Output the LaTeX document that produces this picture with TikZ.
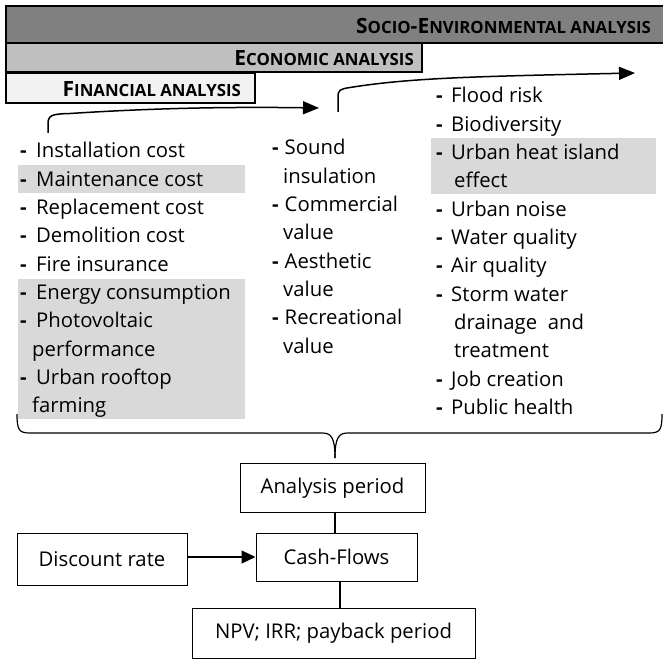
\documentclass[tikz,border=0pt]{standalone}
\usepackage{fontspec}
\setmainfont{Open Sans}
\usetikzlibrary{arrows.meta,calc}
\definecolor{sociogray}{HTML}{808080}
\definecolor{econgray}{HTML}{BFBFBF}
\definecolor{fingray}{HTML}{F2F2F2}
\definecolor{hlgray}{HTML}{D9D9D9}
\newcommand\smc[1]{{\fontsize{16.8}{17}\selectfont #1}}
\newcommand\dda{\makebox[16pt][l]{\textbf{-}}}
\newcommand\ddb{\makebox[12.5pt][l]{\textbf{-}}}
\newcommand\ddc{\makebox[15pt][l]{\textbf{-}}}
\begin{document}
\begin{tikzpicture}[x=1pt,y=-1pt,
  bar/.style={draw=black, line width=1.6pt},
  hdr/.style={font=\fontsize{21}{24}\selectfont\bfseries, inner sep=0pt, anchor=base east},
  item/.style={font=\fontsize{20.3}{24}\selectfont, inner sep=0pt, anchor=base west},
  hl/.style={fill=hlgray, draw=none},
  box/.style={draw, line width=1pt, font=\fontsize{20.3}{24}\selectfont, inner sep=0pt},
  conn/.style={line width=1.2pt},
  bigarr/.style={line width=1.5pt, -{Triangle[length=16pt,width=13pt]}},
  smallarr/.style={line width=1.2pt, -{Triangle[length=14pt,width=13pt]}}
]
\useasboundingbox (0,0) rectangle (663,660);

% header bars
\draw[bar, fill=sociogray] (6,6) rectangle (670,43);
\draw[bar, fill=econgray] (6,43) rectangle (422,72);
\draw[bar, fill=fingray] (6,73) rectangle (255,103);
\node[hdr] (socio) at (651,33.5) {S\smc{OCIO}-E\smc{NVIRONMENTAL ANALYSIS}};
\node[hdr] (econ) at (414,66) {E\smc{CONOMIC ANALYSIS}};
\node[hdr] (fin) at (241,97) {F\smc{INANCIAL ANALYSIS}};

% highlight backgrounds
\fill[hl] (18,165) rectangle (245,193);
\fill[hl] (18,278.5) rectangle (245,419);
\fill[hl] (431,138.5) rectangle (656,194);

% column 1
\node[item] (a1) at (20,158.0) {\dda Installation cost};
\node[item] (a2) at (20,186.3) {\dda Maintenance cost};
\node[item] (a3) at (20,214.6) {\dda Replacement cost};
\node[item] (a4) at (20,242.9) {\dda Demolition cost};
\node[item] (a5) at (20,271.2) {\dda Fire insurance};
\node[item] (a6) at (20,299.5) {\dda Energy consumption};
\node[item] (a7) at (20,327.8) {\dda Photovoltaic};
\node[item] (a8) at (32,356.1) {performance};
\node[item] (a9) at (20,384.4) {\dda Urban rooftop};
\node[item] (a10) at (32,412.7) {farming};

% column 2
\node[item] (b1) at (272,155.0) {\ddb Sound};
\node[item] (b2) at (283,183.3) {insulation};
\node[item] (b3) at (272,211.6) {\ddb Commercial};
\node[item] (b4) at (283,239.9) {value};
\node[item] (b5) at (272,268.2) {\ddb Aesthetic};
\node[item] (b6) at (283,296.5) {value};
\node[item] (b7) at (272,324.8) {\ddb Recreational};
\node[item] (b8) at (283,353.1) {value};

% column 3
\node[item] (c1) at (436,103.0) {\ddc Flood risk};
\node[item] (c2) at (436,131.3) {\ddc Biodiversity};
\node[item] (c3) at (436,159.6) {\ddc Urban heat island};
\node[item] (c4) at (454,187.9) {effect};
\node[item] (c5) at (436,216.2) {\ddc Urban noise};
\node[item] (c6) at (436,244.5) {\ddc Water quality};
\node[item] (c7) at (436,272.8) {\ddc Air quality};
\node[item] (c8) at (436,301.1) {\ddc Storm water};
\node[item] (c9) at (454,329.4) {drainage\ \ and};
\node[item] (c10) at (454,357.7) {treatment};
\node[item] (c11) at (436,386.0) {\ddc Job creation};
\node[item] (c12) at (436,414.3) {\ddc Public health};

% progression arrows
\coordinate (p1s) at (48,133);
\coordinate (p1e) at (319,108);
\coordinate (p2s) at (338,112);
\coordinate (p2e) at (635,73);
\draw[bigarr] (p1s) -- (48,124) .. controls (48,115) and (52,114) .. (70,113.5) .. controls (170,107) and (250,107) .. (p1e);
\draw[bigarr] (p2s) -- (338,97) .. controls (338,90) and (340,89) .. (350,87.5) .. controls (410,78) and (470,76.5) .. (p2e);

% brace
\coordinate (bt) at (335,458);
\draw[conn] (17,414) .. controls (17,430) and (19,433) .. (30,433) -- (322,433) .. controls (331,433) and (335,437) .. (bt);
\draw[conn] (662,414) .. controls (662,430) and (660,433) .. (649,433) -- (348,433) .. controls (339,433) and (335,437) .. (bt);

% bottom flow
\node[box, minimum width=185pt, minimum height=49pt] (ap) at (332.5,488) {Analysis period};
\node[box, minimum width=161pt, minimum height=48pt] (cf) at (336.5,557) {Cash-Flows};
\node[box, minimum width=170pt, minimum height=52pt] (dr) at (102,559) {Discount rate};
\node[box, minimum width=283pt, minimum height=50pt] (npv) at (333.5,633) {NPV; IRR; payback period};

\draw[conn] (ap.south -| bt) -- (cf.north -| bt);
\draw[conn] ([xshift=3.5pt]cf.south) -- ([xshift=3.5pt]cf.south |- npv.north);
\draw[smallarr] (dr.east |- cf.center) -- (cf.west);
\end{tikzpicture}
\end{document}
